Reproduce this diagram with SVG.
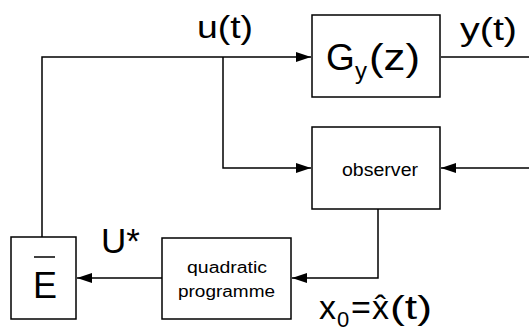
<svg xmlns="http://www.w3.org/2000/svg" width="529" height="331" viewBox="0 0 529 331">
<defs>
<marker id="ah" markerWidth="15" markerHeight="10" refX="15" refY="5" orient="auto" markerUnits="userSpaceOnUse">
<path d="M0,0 L15,5 L0,10 Z" fill="#000"/>
</marker>
<style>
.box{fill:#fff;stroke:#000;stroke-width:1.5}
.ln{fill:none;stroke:#000;stroke-width:1.5}
.t{font-family:"Liberation Sans",Arial,sans-serif;fill:#000}
</style>
</defs>
<rect width="529" height="331" fill="#fff"/>
<g id="connectors">
<path class="ln" d="M42,237 V57 H311" marker-end="url(#ah)"/>
<path class="ln" d="M223,57 V168 H311" marker-end="url(#ah)"/>
<path class="ln" d="M529,168 H441" marker-end="url(#ah)"/>
<path class="ln" d="M441,57 H529" stroke-width="1"/>
<path class="ln" d="M378,209 V278 H292" marker-end="url(#ah)"/>
<path class="ln" d="M162,278 H77" marker-end="url(#ah)"/>
</g>
<g id="labels">
<text class="t" x="197" y="38" font-size="31" textLength="56" lengthAdjust="spacingAndGlyphs">u(t)</text>
<text class="t" x="460" y="40" font-size="31" textLength="57" lengthAdjust="spacingAndGlyphs">y(t)</text>
<text class="t" x="101" y="253" font-size="35">U*</text>
<text class="t" y="319" font-size="34"><tspan x="319">x</tspan><tspan x="337" y="327" font-size="22">0</tspan><tspan x="351" y="319">=</tspan><tspan x="372">x̂</tspan><tspan x="390" textLength="42" lengthAdjust="spacingAndGlyphs">(t)</tspan></text>
</g>
<g id="Gy">
<rect class="box" x="312" y="15" width="128" height="82"/>
<text class="t" y="70" font-size="37"><tspan x="326">G</tspan><tspan x="355" y="79" font-size="24">y</tspan><tspan x="369" y="70" textLength="51" lengthAdjust="spacingAndGlyphs">(z)</tspan></text>
</g>
<g id="observer">
<rect class="box" x="312" y="127" width="128" height="82"/>
<text class="t" x="342" y="176" font-size="18" textLength="76" lengthAdjust="spacingAndGlyphs">observer</text>
</g>
<g id="qp">
<rect class="box" x="162" y="238" width="129" height="81"/>
<text class="t" x="187" y="273" font-size="16" textLength="80" lengthAdjust="spacingAndGlyphs">quadratic</text>
<text class="t" x="178" y="297" font-size="16" textLength="97" lengthAdjust="spacingAndGlyphs">programme</text>
</g>
<g id="E">
<rect class="box" x="11" y="237" width="65" height="82"/>
<text class="t" x="45" y="298" font-size="36" text-anchor="middle">E</text>
<path class="ln" d="M34,257 H55"/>
</g>
</svg>
